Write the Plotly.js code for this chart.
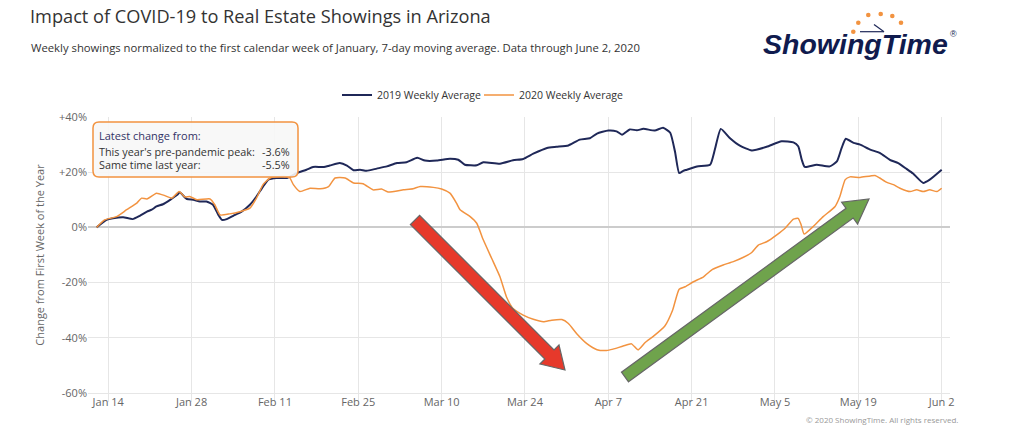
<!DOCTYPE html>
<html>
<head>
<meta charset="utf-8">
<script src="https://cdn.plot.ly/plotly-3.0.1.min.js"></script>
<style>
  html, body { margin: 0; padding: 0; background: #ffffff; }
  #chart { width: 1024px; height: 430px; }
</style>
</head>
<body>
<div id="chart"></div>
<script>
// ---- Data (day of year 2020, Jan 1 = 1) ----
const day2019 = [12.05,13.7,14.8,16.5,18.1,19.3,20.5,21.3,22.1,23.2,24.4,25.6,26.0,27.2,28.3,29.4,30.5,31.6,32.5,33.1,33.9,35.0,36.4,37.8,38.9,40.0,40.9,42.3,44.0,45.7,47.3,48.4,50.1,51.2,52.9,54.1,55.2,56.3,57.4,59.1,60.8,62.5,64.1,65.9,67.2,69.2,71.4,72.8,73.9,75.9,77.0,79.8,82.0,83.7,85.4,87.7,89.3,91.3,93.2,94.9,96.1,98.0,99.4,100.3,101.6,102.8,103.9,105.8,107.2,108.4,109.2,109.9,110.6,111.2,112.9,115.1,115.9,116.9,118.4,120.1,122.1,124.6,127.1,129.1,129.9,130.5,131.0,133.0,135.2,136.4,137.2,137.9,139.2,140.3,142.0,143.6,145.3,146.7,148.1,149.2,150.9,152.0,154.0];
const val2019 = [0,2.7,3.3,3.7,3.0,4.2,5.7,6.4,7.6,8.4,10.0,11.8,12.7,10.3,10.0,9.4,9.4,8.2,4.5,2.7,3.0,4.2,5.7,8.2,11.2,14.8,17.3,17.9,17.9,19.7,20.9,21.9,21.9,22.4,23.3,22.4,20.7,20.9,20.5,21.3,22.1,23.3,23.6,25.2,24.2,24.2,24.9,24.5,22.7,22.5,23.6,23.1,24.3,24.8,26.7,28.8,29.2,29.7,31.8,32.3,34.0,35.1,34.8,33.6,35.5,35.2,35.7,35.1,36.1,34.3,27.5,19.7,20.5,20.9,22.1,22.7,28.2,35.7,32.4,29.6,27.9,29.2,31.2,30.8,29.4,24.5,21.9,22.7,22.1,23.9,28.8,32.1,30.6,30.0,28.2,27.0,24.5,23.3,21.2,19.5,16.1,17.3,20.9];

const day2020 = [12.05,13.4,15.4,17.1,18.8,19.6,20.5,22.1,23.5,24.7,25.9,26.9,27.7,28.9,31.1,31.9,32.8,34.4,36.1,37.8,38.9,40.0,41.2,43.4,44.5,45.1,46.2,47.9,49.6,51.0,52.1,53.8,55.2,56.8,58.5,59.9,61.0,63.6,65.2,66.4,68.6,70.0,71.4,72.5,73.1,74.8,75.9,77.0,78.4,79.8,80.9,82.0,83.7,85.4,87.1,88.5,90.2,91.3,92.7,94.4,96.1,97.7,98.8,100.5,101.9,103.0,104.2,105.6,107.5,108.8,109.9,110.9,112.3,114.0,115.5,117.3,119.0,120.7,122.1,123.2,124.6,126.3,127.7,129.1,129.9,130.4,130.9,132.4,134.1,136.1,136.9,137.8,138.6,140.3,142.8,143.6,144.8,145.9,147.0,148.7,149.8,150.9,152.0,153.2,154.0];
const val2020 = [0,2.7,3.9,6.4,8.8,10.6,10.3,12.4,11.5,10.6,13.0,11.0,11.2,10.0,10.3,8.2,4.5,4.9,5.7,7.0,10.6,15.5,17.9,18.5,17.9,15.5,13.0,14.2,14.0,14.8,17.9,17.9,16.1,15.8,13.6,13.9,12.8,13.6,14.0,14.8,14.5,13.9,12.4,8.8,6.4,3.9,1.5,-4.5,-11.2,-17.9,-25.2,-29.4,-31.8,-33.3,-34.2,-33.6,-33.4,-34.8,-38.5,-42.1,-44.3,-44.6,-44.1,-43.0,-42.2,-44.4,-41.7,-39.4,-35.7,-30.0,-22.4,-21.5,-19.7,-17.9,-15.2,-13.6,-12.4,-10.8,-9.1,-6.4,-5.2,-2.7,-0.3,3.0,3.3,0.9,-2.4,0.3,3.9,7.6,11.2,17.3,18.3,18.1,18.8,17.9,16.3,15.5,14.2,13.0,13.6,13.0,13.6,13.0,14.2];

const seriesNames = ["2019 Weekly Average", "2020 Weekly Average"];
const xTickDays = [14, 28, 42, 56, 70, 84, 98, 112, 126, 140, 154];
const xTickLabels = ["Jan 14","Jan 28","Feb 11","Feb 25","Mar 10","Mar 24","Apr 7","Apr 21","May 5","May 19","Jun 2"];
const yTickVals = [-60, -40, -20, 0, 20, 40];
const yTickLabels = ["-60%","-40%","-20%","0%","+20%","+40%"];

const titleText = "Impact of COVID-19 to Real Estate Showings in Arizona";
const subtitleText = "Weekly showings normalized to the first calendar week of January, 7-day moving average. Data through June 2, 2020";
const yTitleText = "Change from First Week of the Year";
const boxHeader = "Latest change from:";
const boxLabels = ["This year's pre-pandemic peak:", "Same time last year:"];
const boxValues = ["-3.6%", "-5.5%"];
const copyrightText = "© 2020 ShowingTime. All rights reserved.";

// ---- Layout helpers (pixel -> paper) ----
const PL = 88, PT = 117, PW = 862, PH = 276, PB = PT + PH;
const fx = x => (x - PL) / PW;
const fy = y => (PB - y) / PH;

function blockArrow(x0, y0, x1, y1, shaftW, headW, headL) {
  const dx = x1 - x0, dy = y1 - y0, len = Math.hypot(dx, dy);
  const ux = dx / len, uy = dy / len, nx = -uy, ny = ux;
  const bx = x1 - ux * headL, by = y1 - uy * headL;
  const pts = [
    [x0 + nx * shaftW / 2, y0 + ny * shaftW / 2],
    [bx + nx * shaftW / 2, by + ny * shaftW / 2],
    [bx + nx * headW / 2, by + ny * headW / 2],
    [x1, y1],
    [bx - nx * headW / 2, by - ny * headW / 2],
    [bx - nx * shaftW / 2, by - ny * shaftW / 2],
    [x0 - nx * shaftW / 2, y0 - ny * shaftW / 2]
  ];
  return "M" + pts.map(p => fx(p[0]).toFixed(5) + "," + fy(p[1]).toFixed(5)).join(" L") + " Z";
}

function roundRect(x0, y0, x1, y1, r) {
  const X = v => fx(v).toFixed(5), Y = v => fy(v).toFixed(5);
  return `M${X(x0 + r)},${Y(y0)} L${X(x1 - r)},${Y(y0)} Q${X(x1)},${Y(y0)} ${X(x1)},${Y(y0 + r)} ` +
         `L${X(x1)},${Y(y1 - r)} Q${X(x1)},${Y(y1)} ${X(x1 - r)},${Y(y1)} ` +
         `L${X(x0 + r)},${Y(y1)} Q${X(x0)},${Y(y1)} ${X(x0)},${Y(y1 - r)} ` +
         `L${X(x0)},${Y(y0 + r)} Q${X(x0)},${Y(y0)} ${X(x0 + r)},${Y(y0)} Z`;
}

const NAVY = "#1f2858";
const ORANGE = "#f29340";
const FONT = "Open Sans, Noto Sans, sans-serif";

const traces = [
  {
    x: day2019, y: val2019, name: seriesNames[0], type: "scatter", mode: "lines", legend: "legend",
    line: { color: NAVY, width: 2, shape: "spline", smoothing: 0.5 }, hoverinfo: "skip"
  },
  {
    x: day2020, y: val2020, name: seriesNames[1], type: "scatter", mode: "lines", legend: "legend2",
    line: { color: ORANGE, width: 1.5, shape: "spline", smoothing: 0.5 }, hoverinfo: "skip"
  }
];

const logoDots = [[853.3,31.7],[858.3,22.7],[868.3,15],[880.7,14],[892.3,16],[901,22.7]];

const shapes = [
  { type: "path", xref: "paper", yref: "paper", path: roundRect(93, 122, 298, 177, 6),
    fillcolor: "rgba(247,247,247,0.9)", line: { color: ORANGE, width: 1.5 } },
  { type: "path", xref: "paper", yref: "paper", path: blockArrow(415, 220, 565, 370, 13, 27, 22),
    fillcolor: "#e6392b", line: { color: "#666666", width: 1.2 } },
  { type: "path", xref: "paper", yref: "paper", path: blockArrow(625, 377, 869, 199, 12, 27, 24),
    fillcolor: "#6fa34c", line: { color: "#666666", width: 1.2 } },
  // logo clock hand
  { type: "line", xref: "paper", yref: "paper", x0: fx(860), y0: fy(31.7), x1: fx(884), y1: fy(31.7),
    line: { color: NAVY, width: 1.2 } },
  { type: "line", xref: "paper", yref: "paper", x0: fx(874), y0: fy(24.5), x1: fx(884), y1: fy(31.7),
    line: { color: NAVY, width: 1.2 } }
].concat(logoDots.map(d => ({
  type: "circle", xref: "paper", yref: "paper",
  x0: fx(d[0] - 2.3), x1: fx(d[0] + 2.3), y0: fy(d[1] + 2.3), y1: fy(d[1] - 2.3),
  fillcolor: ORANGE, line: { width: 0 }
})));

const annotations = [
  { xref: "paper", yref: "paper", x: fx(29), y: fy(47), xanchor: "left", yanchor: "middle",
    text: subtitleText, showarrow: false, font: { family: FONT, size: 11.3, color: "#333333" } },
  { xref: "paper", yref: "paper", x: fx(97), y: fy(135), xanchor: "left", yanchor: "middle",
    text: boxHeader, showarrow: false, font: { family: FONT, size: 11, color: "#333366" } },
  { xref: "paper", yref: "paper", x: fx(97), y: fy(151), xanchor: "left", yanchor: "middle",
    text: boxLabels[0], showarrow: false, font: { family: FONT, size: 10.8, color: "#333333" } },
  { xref: "paper", yref: "paper", x: fx(97), y: fy(164), xanchor: "left", yanchor: "middle",
    text: boxLabels[1], showarrow: false, font: { family: FONT, size: 10.8, color: "#333333" } },
  { xref: "paper", yref: "paper", x: fx(292), y: fy(151), xanchor: "right", yanchor: "middle",
    text: boxValues[0], showarrow: false, font: { family: FONT, size: 10.8, color: "#333333" } },
  { xref: "paper", yref: "paper", x: fx(292), y: fy(164), xanchor: "right", yanchor: "middle",
    text: boxValues[1], showarrow: false, font: { family: FONT, size: 10.8, color: "#333333" } },
  { xref: "paper", yref: "paper", x: fx(960), y: fy(419), xanchor: "right", yanchor: "middle",
    text: copyrightText, showarrow: false, font: { family: FONT, size: 8, color: "#999999" } },
  { xref: "paper", yref: "paper", x: fx(855), y: fy(44), xanchor: "center", yanchor: "middle",
    text: "<b><i>ShowingTime</i></b>", showarrow: false,
    font: { family: "Liberation Sans, Arial, sans-serif", size: 28.5, color: "#101b4e" } },
  { xref: "paper", yref: "paper", x: fx(953), y: fy(34), xanchor: "center", yanchor: "middle",
    text: "®", showarrow: false, font: { family: "Liberation Sans, Arial, sans-serif", size: 9, color: "#101b4e" } }
];

const legendBase = {
  orientation: "h", xref: "container", yref: "container", xanchor: "left",
  y: 1 - 95 / 430, yanchor: "middle", bgcolor: "rgba(0,0,0,0)",
  font: { family: FONT, size: 10.5, color: "#333333" }, itemwidth: 30
};

const layout = {
  width: 1024, height: 430,
  paper_bgcolor: "#ffffff", plot_bgcolor: "#ffffff",
  margin: { l: PL, r: 1024 - PL - PW, t: PT, b: 430 - PB, autoexpand: false },
  font: { family: FONT, size: 11, color: "#666666" },
  title: {
    text: titleText, xref: "container", yref: "container",
    x: 30 / 1024, xanchor: "left", y: 1 - 17 / 430, yanchor: "middle",
    font: { family: FONT, size: 18.2, color: "#333333" }
  },
  showlegend: true,
  legend: Object.assign({}, legendBase, { x: 337 / 1024 }),
  legend2: Object.assign({}, legendBase, { x: 479 / 1024 }),
  xaxis: {
    range: [10.6, 155.4], tickmode: "array", tickvals: xTickDays, ticktext: xTickLabels,
    showgrid: true, gridcolor: "#e6e6e6", gridwidth: 1, zeroline: false,
    ticks: "outside", ticklen: 8, tickcolor: "#e6e6e6", ticklabelstandoff: -9,
    showline: true, linecolor: "#e6e6e6", linewidth: 1,
    tickfont: { family: FONT, size: 11, color: "#666666" }, fixedrange: true
  },
  yaxis: {
    range: [-60, 40], tickmode: "array", tickvals: yTickVals, ticktext: yTickLabels,
    showgrid: true, gridcolor: "#e6e6e6", gridwidth: 1,
    zeroline: true, zerolinecolor: "#cccccc", zerolinewidth: 2,
    ticks: "", showline: false,
    tickfont: { family: FONT, size: 11, color: "#666666" },
    title: { text: yTitleText, font: { family: FONT, size: 11, color: "#666666" }, standoff: 12 },
    fixedrange: true
  },
  shapes: shapes,
  annotations: annotations
};

Plotly.newPlot("chart", traces, layout, { displayModeBar: false, staticPlot: true });
</script>
</body>
</html>
